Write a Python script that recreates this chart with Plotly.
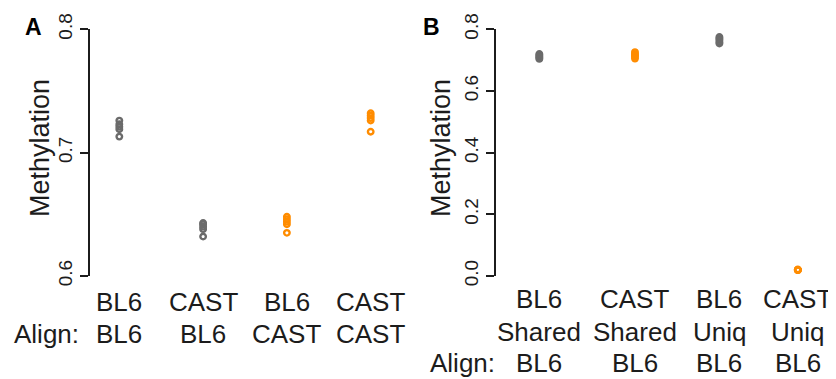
import plotly.graph_objects as go

# ---------------- data ----------------
# Panel A: methylation of each sample, split by source genome / aligned genome
a_samples = ["BL6", "CAST", "BL6", "CAST"]
a_align = ["BL6", "BL6", "CAST", "CAST"]
a_bl6_bl6 = [0.726, 0.723, 0.721, 0.719, 0.713]
a_cast_bl6 = [0.643, 0.642, 0.640, 0.638, 0.632]
a_bl6_cast = [0.648, 0.646, 0.644, 0.642, 0.635]
a_cast_cast = [0.732, 0.730, 0.728, 0.726, 0.717]
a_ticks = [0.6, 0.7, 0.8]

# Panel B: shared vs unique reads, all aligned to BL6
b_samples = ["BL6", "CAST", "BL6", "CAST"]
b_region = ["Shared", "Shared", "Uniq", "Uniq"]
b_align = ["BL6", "BL6", "BL6", "BL6"]
b_bl6_shared = [0.720, 0.716, 0.712, 0.708, 0.704]
b_cast_shared = [0.726, 0.720, 0.716, 0.711, 0.705]
b_bl6_uniq = [0.775, 0.770, 0.765, 0.759, 0.754]
b_cast_uniq = [0.020, 0.019, 0.020, 0.021, 0.019]
b_ticks = [0.0, 0.2, 0.4, 0.6, 0.8]

# ---------------- style / layout ----------------
GRAY = "#6b6b6b"
ORANGE = "#ff8c00"
INK = "#1c1c1c"
FONT = "Liberation Sans, Arial, Helvetica, sans-serif"
PAGE_W, PAGE_H = 836, 379
BODY = 8  # default page body margin around the plot div
W, H = PAGE_W - BODY, PAGE_H - BODY

# group slots along the x axis (layout, not data)
a_slots = [0, 1, 2, 3]
b_slots = [0, 1.11, 2.09, 3]

a_groups = [a_bl6_bl6, a_cast_bl6, a_bl6_cast, a_cast_cast]
a_colors = [GRAY, GRAY, ORANGE, ORANGE]
b_groups = [b_bl6_shared, b_cast_shared, b_bl6_uniq, b_cast_uniq]
b_colors = [GRAY, ORANGE, GRAY, ORANGE]

fig = go.Figure()


def add_points(groups, colors, slots, xa, ya):
    for s, vals, col in zip(slots, groups, colors):
        fig.add_trace(go.Scatter(
            x=[s] * len(vals), y=vals, mode="markers",
            xaxis=xa, yaxis=ya,
            marker=dict(symbol="circle-open", size=5.5, color=col,
                        line=dict(width=2.4, color=col)),
            showlegend=False, hoverinfo="y"))


add_points(a_groups, a_colors, a_slots, "x", "y")
add_points(b_groups, b_colors, b_slots, "x2", "y2")


def px_y(p):
    # p: page pixel from top -> paper fraction
    return (PAGE_H - p) / H


def px_x(p):
    return (p - BODY) / W


ydom = [px_y(276), px_y(29.3)]

hidden_x = dict(showgrid=False, zeroline=False, showline=False, automargin=False,
                showticklabels=False, ticks="", fixedrange=True)
yax_common = dict(showgrid=False, zeroline=False, showline=True, automargin=False,
                  linecolor=INK, linewidth=2, ticks="outside", ticklen=8,
                  tickwidth=2, tickcolor=INK, tickangle=-90,
                  tickfont=dict(family=FONT, size=19, color=INK),
                  domain=ydom, fixedrange=True)

fig.update_layout(
    template="none",
    width=W, height=H,
    margin=dict(l=0, r=0, t=0, b=0, pad=0, autoexpand=False),
    paper_bgcolor="white", plot_bgcolor="white",
    showlegend=False,
    font=dict(family=FONT, color=INK),
    xaxis=dict(domain=[px_x(90), px_x(400)], range=[-0.35, 3.35], anchor="y", **hidden_x),
    yaxis=dict(range=[0.6, 0.8], tickvals=a_ticks,
               ticktext=[f"{t:.1f}" for t in a_ticks], anchor="x", **yax_common),
    xaxis2=dict(domain=[px_x(496), px_x(834)], range=[-0.503, 3.42], anchor="y2", **hidden_x),
    yaxis2=dict(range=[0, 0.8], tickvals=b_ticks,
                ticktext=[f"{t:.1f}" for t in b_ticks], anchor="x2", **yax_common),
)

ann = []
LBL = 26


def row(texts, slots, xref, ypix):
    for s, t in zip(slots, texts):
        ann.append(dict(text=t, x=s, xref=xref, y=px_y(ypix), yref="paper",
                        xanchor="center", yanchor="middle", showarrow=False,
                        font=dict(family=FONT, size=LBL, color=INK)))


# Panel A labels
row(a_samples, a_slots, "x", 302)
row(a_align, a_slots, "x", 334)
ann.append(dict(text="Align:", x=px_x(12), y=px_y(334), xref="paper", yref="paper",
                xanchor="left", yanchor="middle", showarrow=False,
                font=dict(family=FONT, size=LBL, color=INK)))
# Panel B labels
row(b_samples, b_slots, "x2", 299)
row(b_region, b_slots, "x2", 331.5)
row(b_align, b_slots, "x2", 362.5)
ann.append(dict(text="Align:", x=px_x(428), y=px_y(362.5), xref="paper", yref="paper",
                xanchor="left", yanchor="middle", showarrow=False,
                font=dict(family=FONT, size=LBL, color=INK)))

# y titles
for xp in (40, 441):
    ann.append(dict(text="Methylation", x=px_x(xp), y=px_y(148), xref="paper", yref="paper",
                    xanchor="center", yanchor="middle", textangle=-90, showarrow=False,
                    font=dict(family=FONT, size=27, color=INK)))

# panel letters
for letter, xp in (("A", 33), ("B", 431.5)):
    ann.append(dict(text=f"<b>{letter}</b>", x=px_x(xp), y=px_y(27), xref="paper", yref="paper",
                    xanchor="center", yanchor="middle", showarrow=False,
                    font=dict(family=FONT, size=23, color="#000")))

fig.update_layout(annotations=ann)
fig.write_html("out.html")
